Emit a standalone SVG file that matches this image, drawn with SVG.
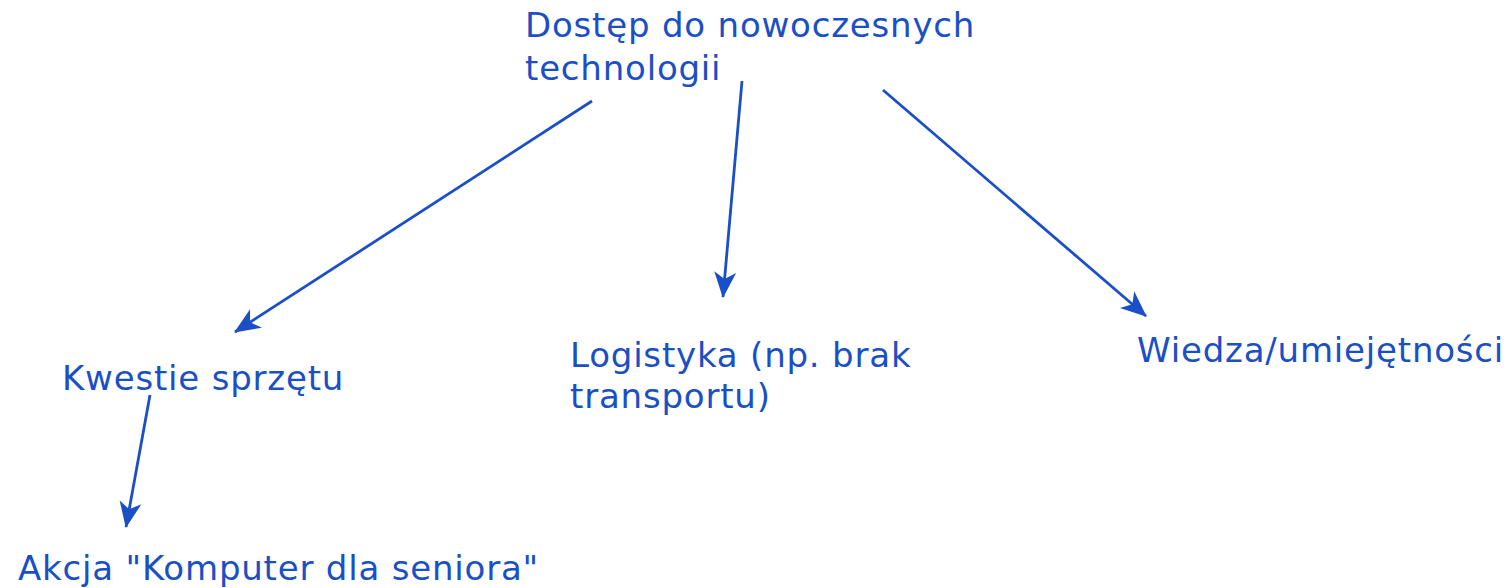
<svg xmlns="http://www.w3.org/2000/svg" width="1512" height="588" viewBox="0 0 1512 588">
<defs>
<style>
text{font-family:"DejaVu Sans",Verdana,sans-serif;font-size:34px;letter-spacing:0.8px;fill:#1a4fc6}
.c line{stroke:#1a4fc6;stroke-width:2.8;fill:none}
</style>
<marker id="ah" markerWidth="30" markerHeight="30" refX="0" refY="0" viewBox="-26 -13 30 26" markerUnits="userSpaceOnUse" orient="auto">
<path d="M1,0 L-25,-11 L-18,0 L-25,11 Z" fill="#1a4fc6"/>
</marker>
</defs>
<rect width="1512" height="588" fill="#fff"/>
<g id="n-root"><text x="525" y="37">Dostęp do nowoczesnych</text><text x="525" y="80">technologii</text></g>
<g id="n-sprzet"><text x="62" y="390">Kwestie sprzętu</text></g>
<g id="n-logistyka"><text x="570" y="367">Logistyka (np. brak</text><text x="570" y="408">transportu)</text></g>
<g id="n-wiedza"><text x="1137" y="362">Wiedza/umiejętności</text></g>
<g id="n-akcja"><text x="18" y="580">Akcja "Komputer dla seniora"</text></g>
<g id="connectors" class="c">
<line x1="592" y1="101" x2="235" y2="332" marker-end="url(#ah)"/>
<line x1="742" y1="81" x2="723" y2="297" marker-end="url(#ah)"/>
<line x1="883" y1="90" x2="1146" y2="316" marker-end="url(#ah)"/>
<line x1="150" y1="395" x2="126" y2="527" marker-end="url(#ah)"/>
</g>
</svg>
